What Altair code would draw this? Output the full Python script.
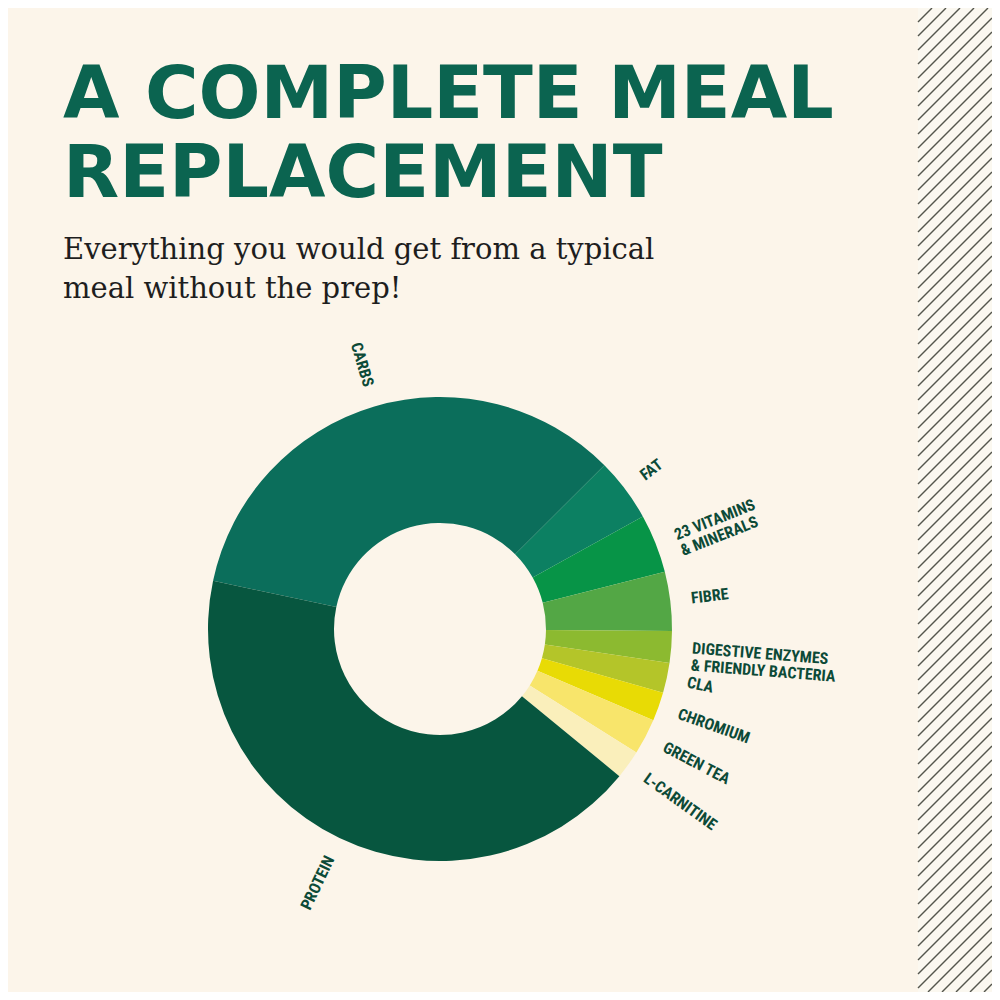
import math
import altair as alt
import pandas as pd

# ---- data ----
categories = ["CARBS", "FAT", "23 VITAMINS\n& MINERALS", "FIBRE",
              "DIGESTIVE ENZYMES\n& FRIENDLY BACTERIA", "CLA", "CHROMIUM",
              "GREEN TEA", "L-CARNITINE", "PROTEIN"]
shares = [34.2, 4.4, 4.1, 4.1, 2.2, 2.1, 2.0, 2.5, 2.0, 42.4]
colors = ["#0b6e5b", "#0c8062", "#079447", "#53a745", "#8cba30",
          "#b4c529", "#e8db05", "#f8e56b", "#faefbb", "#07563f"]

title_lines = ["A COMPLETE MEAL", "REPLACEMENT"]
subtitle_lines = ["Everything you would get from a typical",
                  "meal without the prep!"]

START_DEG = 282          # where the first slice begins (clockwise from 12 o'clock)
BG = "#fcf5ea"
INK = "#0c4a37"

W, H = 984, 984
CX, CY = 432, 621        # donut centre
R_OUT, R_IN, R_LBL = 232, 106, 253

# ---- table built from the arrays ----
rows = []
acc = 0.0
for i, (c, s, col) in enumerate(zip(categories, shares, colors)):
    a0 = START_DEG + acc * 3.6
    acc += s
    a1 = START_DEG + acc * 3.6
    mid = (a0 + a1) / 2
    m = mid % 360
    right = m < 180
    rot = (m - 90) % 360 if right else (m + 90) % 360
    rows.append(dict(order=i, cat=c, share=s, color=col, a0=a0, a1=a1,
                     mid=mid, rot=rot, side="R" if right else "L"))
df = pd.DataFrame(rows)

theta_scale = alt.Scale(domain=[0, 360], range=[0, 2 * math.pi])

arcs = alt.Chart(df).mark_arc(innerRadius=R_IN, outerRadius=R_OUT, stroke=None).encode(
    theta=alt.Theta("a0:Q", scale=theta_scale, stack=None),
    theta2="a1:Q",
    color=alt.Color("color:N", scale=None),
    x=alt.value(CX), y=alt.value(CY),
)

label_font = "Roboto Condensed, Liberation Sans Narrow, DejaVu Sans Condensed, sans-serif"

def labels(side, align):
    return alt.Chart(df).transform_filter(alt.datum.side == side).mark_text(
        align=align, baseline="middle", font=label_font, fontWeight="bold",
        fontSize=16, color=INK, lineBreak="\n", lineHeight=17, radius=R_LBL,
    ).encode(
        theta=alt.Theta("mid:Q", scale=theta_scale, stack=None),
        angle=alt.Angle("rot:Q", scale=None),
        text="cat:N",
        x=alt.value(CX), y=alt.value(CY),
    )

# ---- decorative hatched strip on the right ----
HX0, HX1, STEP = 910, W, 14
hatch_rows = []
b = 0
while b < H + (HX1 - HX0) + STEP:
    x0, y0 = HX0, b
    x1, y1 = HX1, b - (HX1 - HX0)
    if y0 > H:
        x0 = HX0 + (y0 - H); y0 = H
    if y1 < 0:
        x1 = HX1 + y1; y1 = 0
    if x1 > x0:
        hatch_rows.append(dict(x=x0, y=y0, x2=x1, y2=y1))
    b += STEP
hatch_df = pd.DataFrame(hatch_rows)

strip = alt.Chart(pd.DataFrame({"k": [0]})).mark_rect(color="#fbf8f0").encode(
    x=alt.value(HX0), x2=alt.value(HX1), y=alt.value(0), y2=alt.value(H))
hatch = alt.Chart(hatch_df).mark_rule(color="#55564d", strokeWidth=1.4).encode(
    x=alt.X("x:Q", scale=None), y=alt.Y("y:Q", scale=None),
    x2="x2:Q", y2="y2:Q")

chart = alt.layer(strip, hatch, arcs, labels("R", "left"), labels("L", "right")).properties(
    width=W, height=H,
    autosize=alt.AutoSizeParams(type="none"),
    padding=0,
    background=BG,
    title=alt.TitleParams(
        text=title_lines, subtitle=subtitle_lines,
        anchor="start", frame="group", orient="top", dx=55, dy=301,
        font="DejaVu Sans", fontWeight="bold", fontSize=73, color="#0b6450", lineHeight=79,
        subtitleFont="DejaVu Serif", subtitleFontSize=29,
        subtitleColor="#1e1e1e", subtitleFontWeight="normal",
        subtitleLineHeight=39, subtitlePadding=24, limit=900,
    ),
).configure_view(stroke=None)

chart.save("out.html", embed_options={"renderer": "svg", "actions": False})
